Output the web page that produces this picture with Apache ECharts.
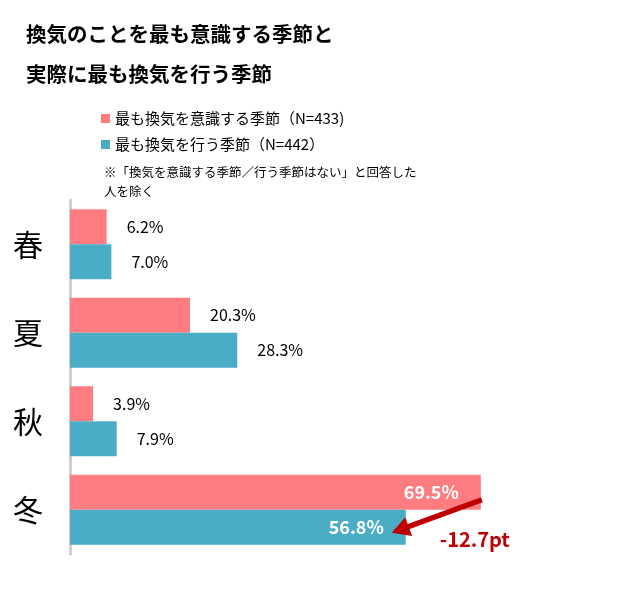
<!DOCTYPE html>
<html><head><meta charset="utf-8">
<script src="https://cdn.jsdelivr.net/npm/echarts@6/dist/echarts.min.js"></script>
<style>html,body{margin:0;padding:0;background:#fff}#c{width:638px;height:600px}</style>
</head><body><div id="c"></div>
<script>
var categories = ['春', '夏', '秋', '冬'];
var seriesNames = ['最も換気を意識する季節（N=433)', '最も換気を行う季節（N=442）'];
var awareValues = [6.2, 20.3, 3.9, 69.5];
var doValues = [7.0, 28.3, 7.9, 56.8];
var diffLabel = '-12.7pt';
var titleText = '換気のことを最も意識する季節と\n実際に最も換気を行う季節';
var noteText = '※「換気を意識する季節／行う季節はない」と回答した\n人を除く';

var FONT = '"Noto Sans CJK JP", "Noto Sans", sans-serif';
var PINK = '#FF7C80', BLUE = '#4BACC6', RED = '#C00000';

function mkData(vals) {
  return vals.map(function (v, i) {
    var last = i === vals.length - 1;
    return {
      value: v,
      label: last ? {
        position: 'insideRight', distance: 22, color: '#fff', fontSize: 18, fontWeight: 'bold'
      } : {
        position: 'right', distance: 20, color: '#000', fontSize: 16
      }
    };
  });
}

var chart = echarts.init(document.getElementById('c'));
chart.setOption({
  backgroundColor: '#fff',
  animation: false,
  textStyle: { fontFamily: FONT },
  title: [{
    text: titleText, left: 21, top: 9,
    textStyle: { fontSize: 20.5, fontWeight: 'bold', color: '#000', lineHeight: 40, fontFamily: FONT }
  }, {
    text: noteText, left: 99, top: 158,
    textStyle: { fontSize: 12.5, fontWeight: 'normal', color: '#000', lineHeight: 19, fontFamily: FONT }
  }],
  legend: {
    orient: 'vertical', left: 96, top: 106, itemWidth: 9, itemHeight: 9, itemGap: 11,
    icon: 'rect', textStyle: { fontSize: 15, color: '#000', fontFamily: FONT },
    data: seriesNames
  },
  grid: { left: 70, top: 200, width: 532, height: 354, containLabel: false },
  xAxis: { type: 'value', min: 0, max: 90, show: false },
  yAxis: {
    type: 'category', data: categories, inverse: true,
    axisLine: { show: true, lineStyle: { color: '#D0D0D0', width: 3 } },
    axisTick: { show: false },
    axisLabel: { fontSize: 30, color: '#000', margin: 27, fontFamily: FONT }
  },
  series: [{
    name: seriesNames[0], type: 'bar', data: mkData(awareValues),
    itemStyle: { color: PINK }, barGap: '0%', barCategoryGap: '21%',
    label: { show: true, formatter: function (p) { return p.value.toFixed(1) + '%'; }, fontFamily: FONT }
  }, {
    name: seriesNames[1], type: 'bar', data: mkData(doValues),
    itemStyle: { color: BLUE }, barGap: '0%', barCategoryGap: '21%',
    label: { show: true, formatter: function (p) { return p.value.toFixed(1) + '%'; }, fontFamily: FONT }
  }]
});

// Arrow annotation from aware (winter) to do (winter), positioned via the axes
var last = categories.length - 1;
var pA = chart.convertToPixel({ gridIndex: 0 }, [awareValues[last], categories[last]]);
var pB = chart.convertToPixel({ gridIndex: 0 }, [doValues[last], categories[last]]);
var yc = pA[1];
var x1 = pA[0] + 1, y1 = yc - 10;
var x2 = pB[0] - 14, y2 = yc + 23;
var dx = x2 - x1, dy = y2 - y1, len = Math.sqrt(dx * dx + dy * dy);
var ux = dx / len, uy = dy / len, nx = -uy, ny = ux;
var headLen = 18, headW = 10;
var bx = x2 - ux * headLen, by = y2 - uy * headLen;
chart.setOption({
  graphic: [{
    type: 'line', silent: true, z: 100,
    shape: { x1: x1, y1: y1, x2: bx + ux * 2, y2: by + uy * 2 },
    style: { stroke: RED, lineWidth: 5.5 }
  }, {
    type: 'polygon', silent: true, z: 100,
    shape: { points: [[x2, y2], [bx + nx * headW, by + ny * headW], [bx - nx * headW, by - ny * headW]] },
    style: { fill: RED }
  }, {
    type: 'text', silent: true, z: 100,
    x: pB[0] + 34, y: yc + 30,
    style: { text: diffLabel, fill: RED, fontSize: 20, fontWeight: 'bold', fontFamily: FONT, textVerticalAlign: 'middle' }
  }]
});
</script>
</body></html>
